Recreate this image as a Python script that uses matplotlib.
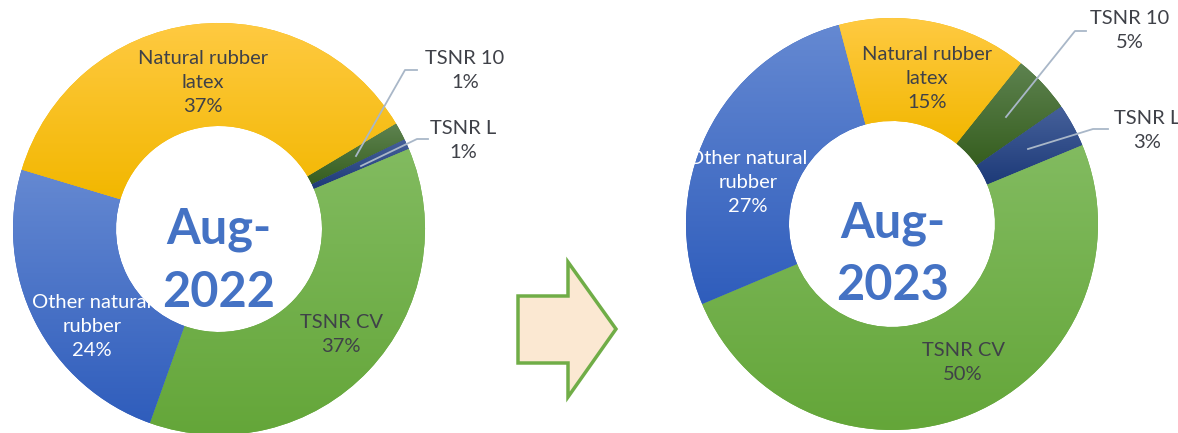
import numpy as np
import matplotlib.pyplot as plt
from matplotlib.colors import LinearSegmentedColormap
from matplotlib.patches import Polygon

plt.rcParams["font.family"] = ["Lato", "DejaVu Sans"]

# participação (%) por tipo de borracha, no sentido horário
categorias = ["TSNR 10", "TSNR L", "TSNR CV", "Other natural rubber", "Natural rubber latex"]
rotulos = ["TSNR 10", "TSNR L", "TSNR CV", "Other natural\nrubber", "Natural rubber\nlatex"]
part_2022 = [1.4, 0.8, 36.8, 24.2, 36.8]
part_2023 = [4.6, 3.4, 49.9, 27.2, 14.9]
periodos = [("Aug-", "2022"), ("Aug-", "2023")]

# cores (topo, base) do degradê de cada fatia
CORES = [
    ("#5E8350", "#365E1F"),
    ("#45609A", "#1D3A78"),
    ("#82BB60", "#64A639"),
    ("#6589D2", "#2F5DBC"),
    ("#FFCA42", "#F2B700"),
]
COR_TEXTO = ["#3F4148", "#3F4148", "#3F4148", "white", "#3F4148"]
COR_GUIA = "#A9B7C8"

W, H = 1178, 433


def py(y):
    # coordenada vertical medida a partir do topo
    return H - y


# layout de cada rosca: centro, raio, ângulo inicial, posição dos rótulos
GRAFICOS = [
    dict(dados=part_2022, centro=(219, 229), inicio=30.8,
         rot_pos=[(465, 71), (463, 141), (341, 335), (92, 326), (203, 83)],
         guias=[[(417, 70), (405, 70), (356, 156)],
                [(428, 139), (417, 139), (361, 166)]],
         centro_txt=(219, 243, 307)),
    dict(dados=part_2023, centro=(892, 224), inicio=51.3,
         rot_pos=[(1130, 31), (1147, 130), (963, 363), (748, 183), (927, 79)],
         guias=[[(1086, 31), (1075, 31), (1006, 117)],
                [(1108, 129), (1093, 129), (1028, 149)]],
         centro_txt=(893, 237, 300)),
]
R_EXT, LARG = 206, 103


def degrade(ax, cunha, topo, base):
    bb = cunha.get_path().get_extents()
    cmap = LinearSegmentedColormap.from_list("g", [base, topo])
    grad = np.linspace(0, 1, 256).reshape(-1, 1)
    im = ax.imshow(grad, cmap=cmap, origin="lower", aspect="auto",
                   extent=(bb.x0, bb.x1, bb.y0, bb.y1),
                   interpolation="bilinear", zorder=2)
    im.set_clip_path(cunha)


fig = plt.figure(figsize=(W / 100, H / 100), dpi=100)
ax = fig.add_axes([0, 0, 1, 1])

for g, (l1, l2) in zip(GRAFICOS, periodos):
    cx, cy = g["centro"]
    cunhas, _ = ax.pie(g["dados"], radius=R_EXT, center=(cx, py(cy)),
                       startangle=g["inicio"], counterclock=False,
                       colors=[c[1] for c in CORES],
                       wedgeprops=dict(width=LARG, linewidth=0))
    for cunha, (topo, base) in zip(cunhas, CORES):
        degrade(ax, cunha, topo, base)

    total = sum(g["dados"])
    for i, (nome, v) in enumerate(zip(rotulos, g["dados"])):
        x, y = g["rot_pos"][i]
        ax.text(x, py(y), f"{nome}\n{v / total * 100:.0f}%", ha="center", va="center",
                fontsize=14.5, color=COR_TEXTO[i], linespacing=1.5, zorder=5)

    for guia in g["guias"]:
        xs = [p[0] for p in guia]
        ys = [py(p[1]) for p in guia]
        ax.plot(xs, ys, color=COR_GUIA, lw=1.3, zorder=4)

    tx, b1, b2 = g["centro_txt"]
    for txt, b in ((l1, b1), (l2, b2)):
        ax.text(tx, py(b), txt, ha="center", va="baseline", fontsize=35,
                fontweight="bold", color="#4472C4", zorder=5)

# seta entre os dois períodos
seta = Polygon([(518, py(296)), (568, py(296)), (568, py(262)), (616, py(329)),
                (568, py(397)), (568, py(363)), (518, py(363))],
               closed=True, facecolor="#FBE8D2", edgecolor="#70AD47", lw=2.5, zorder=3)
ax.add_patch(seta)

ax.set_xlim(0, W)
ax.set_ylim(0, H)
ax.set_aspect("equal")
ax.axis("off")

fig.savefig("out.png", dpi=100, facecolor="white")
